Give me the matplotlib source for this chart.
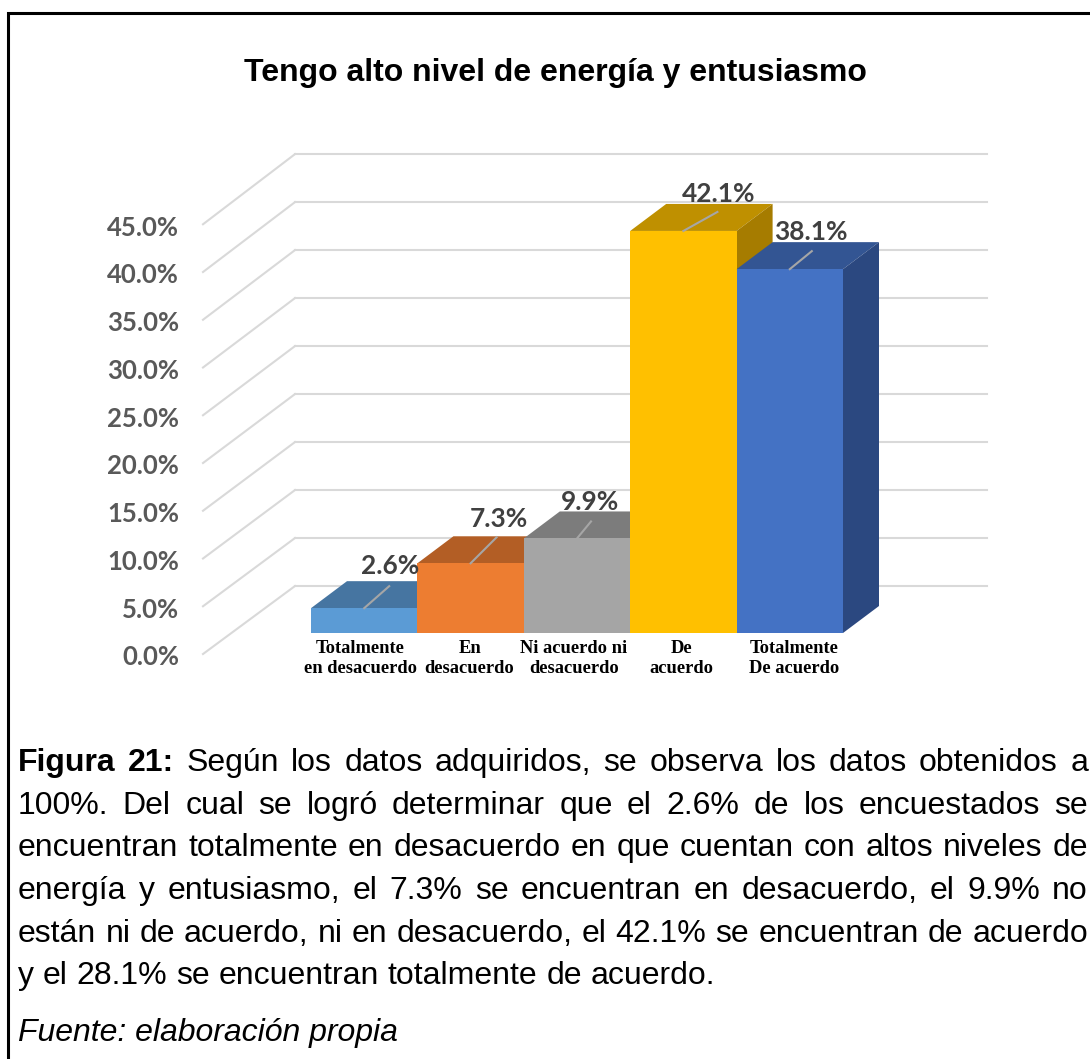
import matplotlib
matplotlib.use("Agg")
import matplotlib.pyplot as plt
from matplotlib.patches import Polygon

categories = ["Totalmente\nen desacuerdo", "En\ndesacuerdo", "Ni acuerdo ni\ndesacuerdo", "De\nacuerdo", "Totalmente\nDe acuerdo"]
values = [2.6, 7.3, 9.9, 42.1, 38.1]
value_labels = ["2.6%", "7.3%", "9.9%", "42.1%", "38.1%"]
ticks = [0, 5, 10, 15, 20, 25, 30, 35, 40, 45]
tick_labels = ["0.0%", "5.0%", "10.0%", "15.0%", "20.0%", "25.0%", "30.0%", "35.0%", "40.0%", "45.0%"]

title = "Tengo alto nivel de energía y entusiasmo"
caption_head = ["Figura", "21:"]
caption_lines = [
    "Según los datos adquiridos, se observa los datos obtenidos a",
    "100%. Del cual se logró determinar que el 2.6% de los encuestados se",
    "encuentran totalmente en desacuerdo en que cuentan con altos niveles de",
    "energía y entusiasmo, el 7.3% se encuentran en desacuerdo, el 9.9% no",
    "están ni de acuerdo, ni en desacuerdo, el 42.1% se encuentran de acuerdo",
    "y el 28.1% se encuentran totalmente de acuerdo.",
]
source = "Fuente: elaboración propia"

front_colors = ["#5B9BD5", "#ED7D31", "#A5A5A5", "#FFC000", "#4472C4"]
top_colors = ["#4675A1", "#B35E25", "#7C7C7C", "#BF9000", "#335593"]
side_colors = ["#3E6690", "#9E521F", "#6C6C6C", "#A67C00", "#2B4880"]

# pixel sizes of the picture
W, H = 1090, 1059
PX_X = 106.4  # px per category
PX_Y = 9.55   # px per percent
DX, DY = 36 / PX_X, 27 / PX_Y  # bar depth
WALL_DX, WALL_Y = 92 / PX_X, 4.92
WALL_SCALE = 1.005
FLOOR_Y = -2.2

# label and leader offsets from the bar top, px
label_off = [(26, 42), (28, 44), (13, 36), (35, 37), (21, 37)]
leader_off = [(25, 22), (26, 26), (14, 17), (34, 19), (22, 18)]
cat_off = [-4, -1, -3, -2, 4]

fig = plt.figure(figsize=(W / 100, H / 100), dpi=100, facecolor="white")

ax = fig.add_axes([0, 0, 1, 1])
x0 = -0.5 - 311 / PX_X
ax.set_xlim(x0, x0 + W / PX_X)
ax.set_ylim((633 - H) / PX_Y, 633 / PX_Y)
ax.axis("off")

wall_x = x0 + 295 / PX_X
right_x = x0 + 987 / PX_X
for t, lab in zip(ticks, tick_labels):
    back = t * WALL_SCALE + WALL_Y
    ax.plot([wall_x, right_x], [back, back], color="#D9D9D9", lw=1.5, zorder=1)
    ax.plot([wall_x - WALL_DX, wall_x], [t + FLOOR_Y, back], color="#D9D9D9", lw=1.5, zorder=1)
    ax.text(x0 + 179 / PX_X, t + FLOOR_Y - 0.35, lab, ha="right", va="center", family="Lato",
            fontweight="bold", fontsize=18.5, color="#595959", zorder=5)

for i, v in enumerate(values):
    z = 2 + i
    l, r = i - 0.5, i + 0.5
    ax.bar(i, v, width=1, color=front_colors[i], zorder=z + 0.3)
    ax.add_patch(Polygon([(l, v), (r, v), (r + DX, v + DY), (l + DX, v + DY)], color=top_colors[i], lw=0, zorder=z))
    ax.add_patch(Polygon([(r, 0), (r + DX, DY), (r + DX, v + DY), (r, v)], color=side_colors[i], lw=0, zorder=z))
    ax.plot([i, i + leader_off[i][0] / PX_X], [v, v + leader_off[i][1] / PX_Y], color="#A6A6A6", lw=1.5, zorder=9)
    ax.text(i + label_off[i][0] / PX_X, v + label_off[i][1] / PX_Y, value_labels[i], ha="center", va="center",
            family="Lato", fontweight="bold", fontsize=18.9, color="#404040", zorder=10)
    ax.text(i + cat_off[i] / PX_X, -0.75, categories[i], ha="center", va="top", family="Liberation Serif",
            fontweight="bold", fontsize=13.3, linespacing=1.25, color="black", zorder=10)

# page layer: frame, title, caption
page = fig.add_axes([0, 0, 1, 1], facecolor="none")
page.set_xlim(0, W)
page.set_ylim(H, 0)
page.axis("off")
page.plot([7.5, 7.5, W], [H, 13, 13], color="black", lw=2.2, solid_joinstyle="miter")
page.text(555, 81, title, ha="center", va="baseline", family="Liberation Sans", fontweight="bold", fontsize=23)

renderer = fig.canvas.get_renderer()
LEFT, RIGHT = 18, 1088
FS = 23
baselines = [771, 814, 856, 899, 942, 984]


def width(word, weight):
    t = page.text(0, 0, word, family="Liberation Sans", fontweight=weight, fontsize=FS)
    w = t.get_window_extent(renderer).width
    t.remove()
    return w


for n, line in enumerate(caption_lines):
    words = [(w, "normal") for w in line.split()]
    if n == 0:
        words = [(w, "bold") for w in caption_head] + words
    if n == len(caption_lines) - 1:
        gap = width("a a", "normal") - 2 * width("a", "normal")
    else:
        total = sum(width(w, b) for w, b in words)
        gap = (RIGHT - LEFT - total) / (len(words) - 1)
    x = LEFT
    for w, b in words:
        page.text(x, baselines[n], w, family="Liberation Sans", fontweight=b, fontsize=FS,
                  ha="left", va="baseline", color="black")
        x += width(w, b) + gap

page.text(LEFT, 1041, source, family="Liberation Sans", style="italic", fontsize=FS, ha="left", va="baseline", color="black")

fig.savefig("out.png", dpi=100)
